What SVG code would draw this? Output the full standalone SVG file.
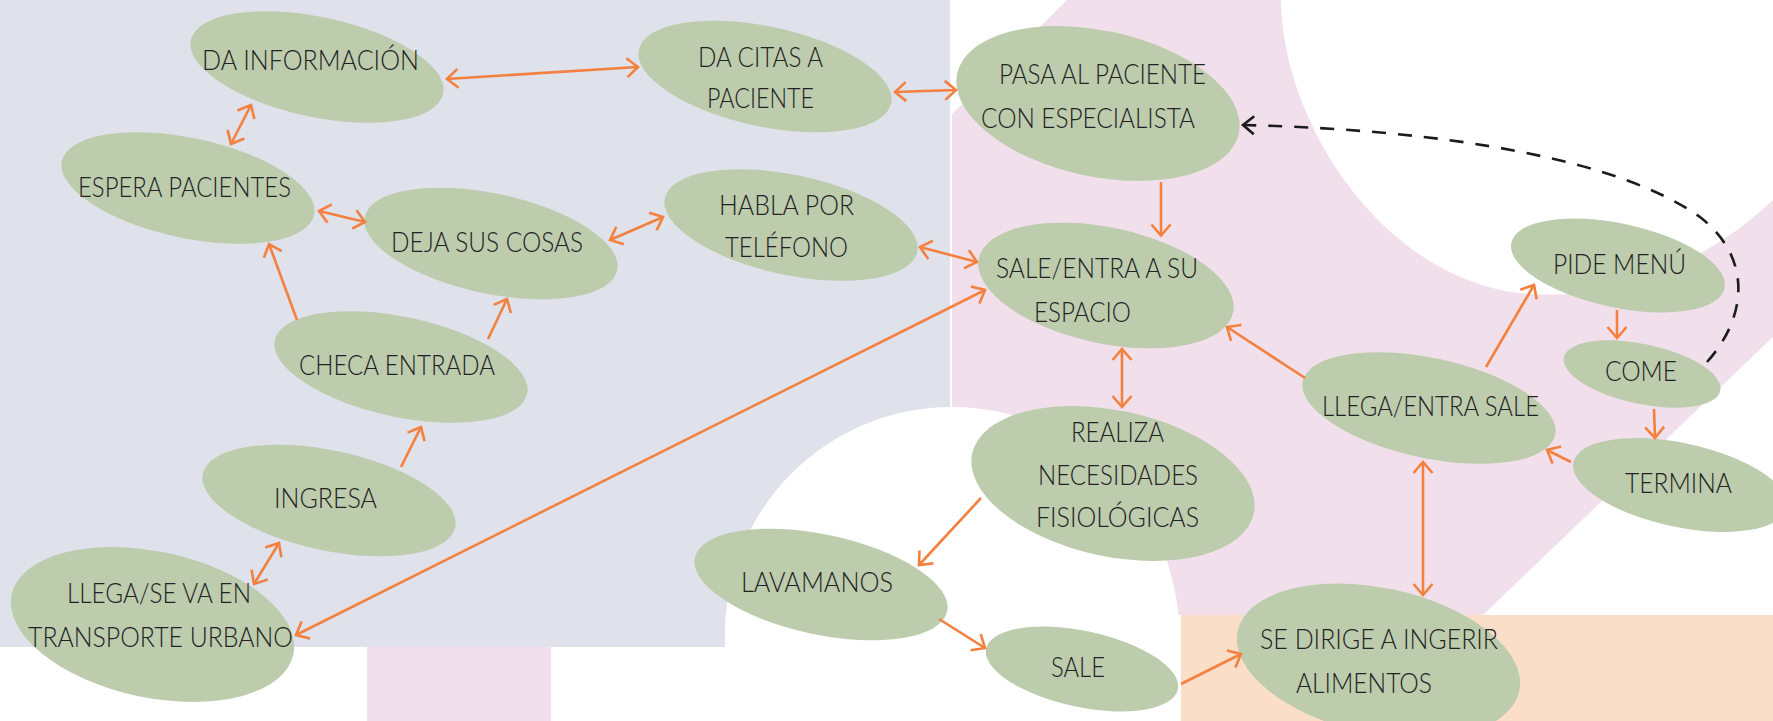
<svg xmlns="http://www.w3.org/2000/svg" width="1773" height="721" viewBox="0 0 1773 721">
<style>
.node ellipse{fill:#BDCCAD}
.node text{font-family:"Lato","Roboto","Liberation Sans",sans-serif;font-weight:300;font-size:28px;fill:#222222}
.c{fill:none;stroke:#F4803F;stroke-width:2.6;marker-end:url(#ah)}
.d{marker-start:url(#ah)}
.dash{fill:none;stroke:#1c1c1c;stroke-width:2.6;stroke-dasharray:14 12;marker-end:url(#ahk)}
</style>
<defs>
<marker id="ah" viewBox="0 0 12 20" refX="11" refY="10" markerWidth="12" markerHeight="20" markerUnits="userSpaceOnUse" orient="auto-start-reverse" overflow="visible"><path d="M0,0.5 L11,10 L0,19.5" fill="none" stroke="#F4803F" stroke-width="2.6"/></marker>
<marker id="ahk" viewBox="0 0 12 20" refX="11" refY="10" markerWidth="12" markerHeight="20" markerUnits="userSpaceOnUse" orient="auto" overflow="visible"><path d="M0,1 L11,10 L0,19" fill="none" stroke="#1c1c1c" stroke-width="2.6"/></marker>
</defs>
<g id="background">
<rect x="0" y="0" width="1773" height="721" fill="#FFFFFF"/>
<path d="M1067,0 L1773,0 L1773,337 L1483,615 L952,615 L952,114 Z" fill="#F1E0EB"/>
<path d="M1281,0 C1283,130 1390,285 1530,294 C1620,300 1710,260 1773,200 L1773,0 Z" fill="#FFFFFF"/>
<rect x="367" y="640" width="184" height="81" fill="#F1E0EB"/>
<rect x="0" y="0" width="950" height="647" fill="#DFE2EA"/>
<circle cx="952" cy="634" r="227" fill="#FFFFFF"/>
<rect x="725" y="634" width="454" height="87" fill="#FFFFFF"/>
<rect x="1181" y="615" width="592" height="106" fill="#FADEC8"/>
</g>
<g id="n-da-informacion" class="node"><ellipse cx="317" cy="67" rx="129" ry="50" transform="rotate(12 317 67)"/><text x="202" y="70" textLength="217" lengthAdjust="spacingAndGlyphs">DA INFORMACIÓN</text></g>
<g id="n-da-citas" class="node"><ellipse cx="765" cy="76.5" rx="129" ry="50" transform="rotate(12 765 76.5)"/><text x="698" y="66.7" textLength="125" lengthAdjust="spacingAndGlyphs">DA CITAS A</text><text x="707" y="108.3" textLength="107" lengthAdjust="spacingAndGlyphs">PACIENTE</text></g>
<g id="n-pasa" class="node"><ellipse cx="1098" cy="103.5" rx="144" ry="73" transform="rotate(12 1098 103.5)"/><text x="999" y="84" textLength="207" lengthAdjust="spacingAndGlyphs">PASA AL PACIENTE</text><text x="981" y="127.5" textLength="214" lengthAdjust="spacingAndGlyphs">CON ESPECIALISTA</text></g>
<g id="n-espera" class="node"><ellipse cx="188" cy="188" rx="129" ry="50" transform="rotate(12 188 188)"/><text x="78" y="196.7" textLength="213" lengthAdjust="spacingAndGlyphs">ESPERA PACIENTES</text></g>
<g id="n-deja" class="node"><ellipse cx="491" cy="243.5" rx="129" ry="50" transform="rotate(12 491 243.5)"/><text x="391" y="251.7" textLength="192" lengthAdjust="spacingAndGlyphs">DEJA SUS COSAS</text></g>
<g id="n-habla" class="node"><ellipse cx="791" cy="225" rx="129" ry="50" transform="rotate(12 791 225)"/><text x="719" y="215" textLength="135" lengthAdjust="spacingAndGlyphs">HABLA POR</text><text x="725" y="256.7" textLength="123" lengthAdjust="spacingAndGlyphs">TELÉFONO</text></g>
<g id="n-checa" class="node"><ellipse cx="401" cy="367" rx="129" ry="50" transform="rotate(12 401 367)"/><text x="299" y="375" textLength="196" lengthAdjust="spacingAndGlyphs">CHECA ENTRADA</text></g>
<g id="n-ingresa" class="node"><ellipse cx="329" cy="500.5" rx="129" ry="50" transform="rotate(12 329 500.5)"/><text x="274" y="508.3" textLength="103" lengthAdjust="spacingAndGlyphs">INGRESA</text></g>
<g id="n-llega-transporte" class="node"><ellipse cx="152.5" cy="624.5" rx="144" ry="73" transform="rotate(12 152.5 624.5)"/><text x="67" y="603.3" textLength="184" lengthAdjust="spacingAndGlyphs">LLEGA/SE VA EN</text><text x="28" y="646.7" textLength="265" lengthAdjust="spacingAndGlyphs">TRANSPORTE URBANO</text></g>
<g id="n-sale-entra" class="node"><ellipse cx="1106" cy="285.5" rx="130" ry="58" transform="rotate(12 1106 285.5)"/><text x="996" y="278.3" textLength="202" lengthAdjust="spacingAndGlyphs">SALE/ENTRA A SU</text><text x="1034" y="321.7" textLength="97" lengthAdjust="spacingAndGlyphs">ESPACIO</text></g>
<g id="n-pide" class="node"><ellipse cx="1618" cy="265.5" rx="109" ry="42" transform="rotate(12 1618 265.5)"/><text x="1553" y="274" textLength="133" lengthAdjust="spacingAndGlyphs">PIDE MENÚ</text></g>
<g id="n-come" class="node"><ellipse cx="1642" cy="374" rx="80" ry="30" transform="rotate(12 1642 374)"/><text x="1605" y="380.7" textLength="72" lengthAdjust="spacingAndGlyphs">COME</text></g>
<g id="n-llega-entra" class="node"><ellipse cx="1429" cy="408" rx="129" ry="50" transform="rotate(12 1429 408)"/><text x="1322" y="415.5" textLength="217" lengthAdjust="spacingAndGlyphs">LLEGA/ENTRA SALE</text></g>
<g id="n-termina" class="node"><ellipse cx="1680" cy="485" rx="109" ry="42" transform="rotate(12 1680 485)"/><text x="1625" y="493.3" textLength="107" lengthAdjust="spacingAndGlyphs">TERMINA</text></g>
<g id="n-realiza" class="node"><ellipse cx="1113" cy="483.5" rx="144" ry="73" transform="rotate(12 1113 483.5)"/><text x="1071" y="441.7" textLength="93" lengthAdjust="spacingAndGlyphs">REALIZA</text><text x="1038" y="485" textLength="160" lengthAdjust="spacingAndGlyphs">NECESIDADES</text><text x="1036" y="526.7" textLength="163" lengthAdjust="spacingAndGlyphs">FISIOLÓGICAS</text></g>
<g id="n-lavamanos" class="node"><ellipse cx="821" cy="584.5" rx="129" ry="50" transform="rotate(12 821 584.5)"/><text x="741" y="592.3" textLength="152" lengthAdjust="spacingAndGlyphs">LAVAMANOS</text></g>
<g id="n-sale" class="node"><ellipse cx="1082" cy="669" rx="98" ry="38" transform="rotate(12 1082 669)"/><text x="1051" y="676.7" textLength="54" lengthAdjust="spacingAndGlyphs">SALE</text></g>
<g id="n-se-dirige" class="node"><ellipse cx="1378.5" cy="661" rx="144" ry="73" transform="rotate(12 1378.5 661)"/><text x="1260" y="649.3" textLength="238" lengthAdjust="spacingAndGlyphs">SE DIRIGE A INGERIR</text><text x="1296" y="692.7" textLength="136" lengthAdjust="spacingAndGlyphs">ALIMENTOS</text></g>
<g id="connectors">
<path class="c d" d="M447,79 L638,67"/>
<path class="c d" d="M895,92 L956,90"/>
<path class="c d" d="M251,105 L231,144"/>
<path class="c d" d="M319,211 L365,222"/>
<path class="c d" d="M610,240 L663,217"/>
<path class="c" d="M297,320 L269,244"/>
<path class="c" d="M488,339 L507,299"/>
<path class="c d" d="M920,247 L977,262"/>
<path class="c d" d="M296,635 L985,290"/>
<path class="c" d="M401,467 L421,427"/>
<path class="c d" d="M254,584 L279,543"/>
<path class="c" d="M1161,182 L1161,235.5"/>
<path class="c d" d="M1122,349 L1122,407"/>
<path class="c" d="M1305,378 L1227,327"/>
<path class="c" d="M1486,367 L1534,285"/>
<path class="c" d="M1617,310 L1617,338"/>
<path class="c" d="M1654,409 L1655,438"/>
<path class="c" d="M1571,462 L1547,450"/>
<path class="c d" d="M1423,462 L1423,595"/>
<path class="c" d="M981,498 L919,565"/>
<path class="c" d="M939,619 L985,648"/>
<path class="c" d="M1181,684 L1241,654"/>
<path class="dash" d="M1707,362 C1745,320 1755,260 1700,217 C1620,160 1450,130 1243,125"/>
</g>
</svg>
